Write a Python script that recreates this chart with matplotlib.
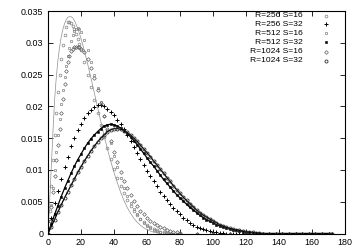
import matplotlib
matplotlib.use("Agg")
import matplotlib.pyplot as plt

plt.rcParams['font.family'] = ['Liberation Sans', 'DejaVu Sans']

# ---- data ----
x16 = [0, 1, 2, 3, 4, 5, 6, 7, 8, 9, 10, 11, 12, 13, 14, 15, 16, 17, 18, 19, 20,
       22, 24, 26, 28, 30, 32, 34, 36, 38, 40, 42, 44, 46, 48, 50, 52, 54, 56, 58,
       60, 62, 64, 66, 68, 70, 72, 74, 76, 78, 80,
       90, 100, 110, 120, 130, 140, 150, 160, 172]

r256_s16 = [0, 0.0035, 0.0075, 0.0115, 0.0155, 0.0190, 0.0222, 0.0250, 0.0275, 0.0296, 0.0313,
            0.0325, 0.0332, 0.0333, 0.0331, 0.0327, 0.0321, 0.0314, 0.0306, 0.0298, 0.0289,
            0.0270, 0.0250, 0.0230, 0.0210, 0.0190, 0.0171, 0.0152, 0.0134, 0.0117, 0.0101,
            0.0087, 0.0074, 0.0063, 0.0053, 0.0044, 0.0036, 0.0029, 0.0023, 0.0018,
            0.0014, 0.0010, 0.0007, 0.0005, 0.0003, 0.0002, 0.0001, 0, 0, 0, 0,
            0, 0, 0, 0, 0, 0, 0, 0, 0]

r512_s16 = [0, 0.0020, 0.0045, 0.0072, 0.0100, 0.0128, 0.0155, 0.0180, 0.0204, 0.0226, 0.0246,
            0.0264, 0.0279, 0.0292, 0.0303, 0.0312, 0.0318, 0.0322, 0.0323, 0.0321, 0.0317,
            0.0305, 0.0289, 0.0270, 0.0250, 0.0229, 0.0207, 0.0185, 0.0163, 0.0142, 0.0122,
            0.0104, 0.0087, 0.0072, 0.0059, 0.0048, 0.0038, 0.0030, 0.0023, 0.0017,
            0.0012, 0.0009, 0.0006, 0.0004, 0.0002, 0.0001, 0, 0, 0, 0, 0,
            0, 0, 0, 0, 0, 0, 0, 0, 0]

r1024_s16 = [0, 0.0020, 0.0042, 0.0066, 0.0090, 0.0115, 0.0140, 0.0165, 0.0190, 0.0212, 0.0235,
             0.0255, 0.0270, 0.0280, 0.0287, 0.0291, 0.0293, 0.0294, 0.0294, 0.0293, 0.0291,
             0.0285, 0.0275, 0.0261, 0.0244, 0.0225, 0.0205, 0.0185, 0.0165, 0.0146, 0.0128,
             0.0112, 0.0097, 0.0083, 0.0071, 0.0060, 0.0051, 0.0043, 0.0036, 0.0030,
             0.0025, 0.0020, 0.0016, 0.0013, 0.0010, 0.0008, 0.0006, 0.0004, 0.0003, 0.0002, 0.0001,
             0, 0, 0, 0, 0, 0, 0, 0, 0]

x_thin = [0, 1, 2, 3, 4, 5, 6, 7, 8, 9, 10, 11, 12, 13, 14, 15, 16, 18, 20, 22, 24, 26, 28, 30,
          32, 34, 36, 38, 40, 42, 44, 46, 48, 50, 52, 54, 56, 58, 60, 62, 64, 66, 68]
thin_fit = [0, 0.0050, 0.0105, 0.0160, 0.0210, 0.0245, 0.0272, 0.0293, 0.0309, 0.0321, 0.0330,
            0.0336, 0.0340, 0.0341, 0.0341, 0.0339, 0.0335, 0.0323, 0.0307, 0.0288, 0.0267,
            0.0245, 0.0222, 0.0199, 0.0176, 0.0154, 0.0133, 0.0114, 0.0096, 0.0080, 0.0065,
            0.0052, 0.0041, 0.0032, 0.0024, 0.0018, 0.0013, 0.0009, 0.0006, 0.0004, 0.0002,
            0.0001, 0]

x32 = [0, 2, 4, 6, 8, 10, 12, 14, 16, 18, 20, 22, 24, 26, 28, 30, 32, 34, 36, 38, 40,
       42, 44, 46, 48, 50, 52, 54, 56, 58, 60, 62, 64, 66, 68, 70, 72, 74, 76, 78, 80,
       82, 84, 86, 88, 90, 92, 94, 96, 98, 100, 102, 104, 106, 108, 110, 112, 114, 116,
       118, 120, 122, 124, 126, 128, 130, 134, 138, 142, 146, 150, 154, 158, 162, 166, 170, 172]

r256_s32 = [0, 0.0025, 0.0048, 0.0067, 0.0085, 0.0104, 0.0121, 0.0137, 0.0151, 0.0163, 0.0173,
            0.0182, 0.0189, 0.0195, 0.0199, 0.0202, 0.0202, 0.0200, 0.0196, 0.0191, 0.0186,
            0.0179, 0.0172, 0.0164, 0.0155, 0.0146, 0.0136, 0.0126, 0.0117, 0.0108, 0.0099,
            0.0090, 0.0082, 0.0074, 0.0066, 0.0059, 0.0052, 0.0046, 0.0040, 0.0035, 0.0030,
            0.0025, 0.0021, 0.0017, 0.0014, 0.0011, 0.0009, 0.0007, 0.0005, 0.0004, 0.0003,
            0.0002, 0.0001, 0.0001, 0, 0, 0, 0, 0,
            0, 0, 0, 0, 0, 0, 0, 0, 0, 0, 0, 0, 0, 0, 0, 0, 0, 0]

r512_s32 = [0, 0.0015, 0.0030, 0.0044, 0.0058, 0.0071, 0.0083, 0.0095, 0.0106, 0.0116, 0.0125,
            0.0134, 0.0142, 0.0149, 0.0155, 0.0160, 0.0165, 0.0169, 0.0171, 0.0172, 0.0171,
            0.0169, 0.0166, 0.0162, 0.0157, 0.0152, 0.0146, 0.0140, 0.0133, 0.0126, 0.0119,
            0.0112, 0.0106, 0.0099, 0.0092, 0.0085, 0.0079, 0.0073, 0.0067, 0.0061, 0.0056,
            0.0051, 0.0046, 0.0041, 0.0037, 0.0033, 0.0029, 0.0025, 0.0022, 0.0019, 0.0017,
            0.0014, 0.0012, 0.0010, 0.0009, 0.0007, 0.0006, 0.0005, 0.0004,
            0.0003, 0.0002, 0.0002, 0.0001, 0.0001, 0, 0, 0, 0, 0, 0, 0, 0, 0, 0, 0, 0, 0]

r1024_s32 = [0, 0.0011, 0.0022, 0.0034, 0.0045, 0.0056, 0.0066, 0.0076, 0.0086, 0.0096, 0.0105,
             0.0114, 0.0122, 0.0130, 0.0137, 0.0144, 0.0150, 0.0155, 0.0160, 0.0163, 0.0165,
             0.0165, 0.0164, 0.0162, 0.0159, 0.0155, 0.0150, 0.0145, 0.0139, 0.0133, 0.0127,
             0.0121, 0.0114, 0.0108, 0.0101, 0.0095, 0.0088, 0.0082, 0.0075, 0.0069, 0.0063,
             0.0057, 0.0052, 0.0047, 0.0042, 0.0037, 0.0033, 0.0029, 0.0026, 0.0023, 0.0020,
             0.0017, 0.0014, 0.0012, 0.0010, 0.0008, 0.0007, 0.0006, 0.0005,
             0.0004, 0.0003, 0.0002, 0.0002, 0.0001, 0.0001, 0, 0, 0, 0, 0, 0, 0, 0, 0, 0, 0, 0]

labels = ["R=256 S=16", "R=256 S=32", "R=512 S=16", "R=512 S=32", "R=1024 S=16", "R=1024 S=32"]
x_ticks = [0, 20, 40, 60, 80, 100, 120, 140, 160, 180]
y_ticks = [0, 0.005, 0.01, 0.015, 0.02, 0.025, 0.03, 0.035]
y_ticklabels = ["0", "0.005", "0.01", "0.015", "0.02", "0.025", "0.03", "0.035"]

# ---- figure ----
fig = plt.figure(figsize=(3.6, 2.52), dpi=100)
ax = fig.add_axes([48 / 360, 1 - 233.5 / 252, 297 / 360, 222.5 / 252])

gray = "#808080"
styles = [
    dict(marker='o', ms=2.0, mfc='none', mec=gray, mew=0.5, ls='none'),
    dict(marker='+', ms=2.2, color='black', mew=0.7, ls='none'),
    dict(marker='s', ms=1.7, mfc='none', mec=gray, mew=0.5, ls='none'),
    dict(marker='s', ms=1.6, mfc='black', mec='black', mew=0.4, ls='none'),
    dict(marker='D', ms=1.9, mfc='none', mec='#606060', mew=0.5, ls='none'),
    dict(marker='o', ms=2.2, mfc='none', mec='#303030', mew=0.6, ls='none'),
]
connect = [False, False, False, True, False, True]

ax.plot(x_thin, thin_fit, color='#909090', lw=0.5)

series = [(x16, r256_s16), (x32, r256_s32), (x16, r512_s16), (x32, r512_s32),
          (x16, r1024_s16), (x32, r1024_s32)]
for (xs, ys), st, c in zip(series, styles, connect):
    if c:
        ax.plot(xs, ys, color='black', lw=0.9)
    ax.plot(xs, ys, **st)

ax.set_xlim(0, 180)
ax.set_ylim(0, 0.035)
ax.set_xticks(x_ticks)
ax.set_yticks(y_ticks)
ax.set_yticklabels(y_ticklabels)
ax.tick_params(direction='in', length=3.5, width=0.6, labelsize=6.4,
               top=True, right=True, pad=3.5)
for s in ax.spines.values():
    s.set_linewidth(0.8)

# legend (gnuplot style: right-aligned text, sample to the right)
rows_y = [0.979, 0.940, 0.900, 0.859, 0.817, 0.777]
for lab, st, yy in zip(labels, styles, rows_y):
    ax.text(0.859, yy, lab, transform=ax.transAxes, ha='right', va='center', fontsize=6.1)
    ax.plot([0.936], [yy], transform=ax.transAxes, clip_on=False, **st)

fig.savefig("out.png", dpi=100)
